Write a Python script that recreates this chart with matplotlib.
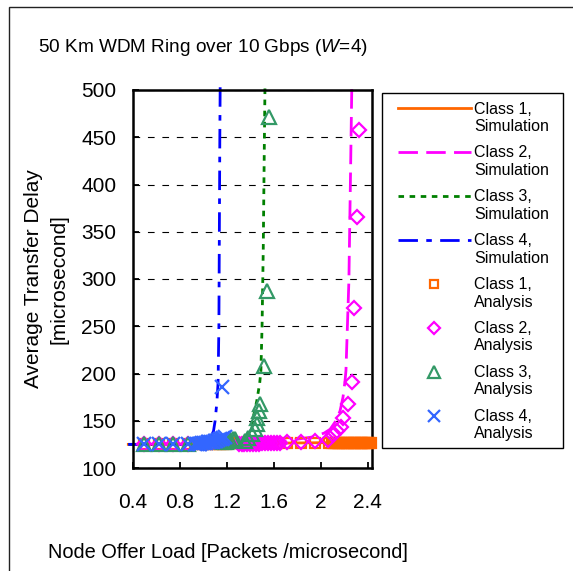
import matplotlib
matplotlib.use('Agg')
import matplotlib.pyplot as plt
from matplotlib.lines import Line2D
from matplotlib.legend_handler import HandlerLine2D
from matplotlib.patches import Rectangle
import numpy as np

plt.rcParams['font.family'] = ['Liberation Sans', 'DejaVu Sans']
plt.rcParams['mathtext.fontset'] = 'custom'
plt.rcParams['mathtext.rm'] = 'Liberation Sans'
plt.rcParams['mathtext.it'] = 'Liberation Sans:italic'

# ---------------- data ----------------
title = '50 Km WDM Ring over 10 Gbps ($\\mathit{W}$=4)'
x_label = 'Node Offer Load [Packets /microsecond]'
y_label = 'Average Transfer Delay\n[microsecond]'
x_ticks = [0.4, 0.8, 1.2, 1.6, 2.0, 2.4]
x_tick_labels = ['0.4', '0.8', '1.2', '1.6', '2', '2.4']
y_ticks = [100, 150, 200, 250, 300, 350, 400, 450, 500]

# Simulation curves
sim1_load = [0.36, 0.6, 1.0, 1.4, 1.8, 2.2, 2.437]
sim1_delay = [125, 125, 125.5, 126, 126.5, 127, 127.5]

sim2_load = [0.36, 1.0, 1.6, 1.8, 1.94, 2.03, 2.08, 2.13, 2.165, 2.19, 2.207, 2.215, 2.24, 2.255, 2.265]
sim2_delay = [125, 125.5, 127, 130.5, 133, 137, 141, 150, 160.5, 175, 192, 203, 298, 420, 505]

sim3_load = [0.36, 0.8, 1.2, 1.3, 1.355, 1.38, 1.41, 1.455, 1.48, 1.49, 1.5, 1.51, 1.52, 1.525]
sim3_delay = [125, 125, 125.5, 126, 128, 135, 145, 171, 190, 203, 250, 330, 450, 505]

sim4_load = [0.36, 0.9, 1.0, 1.05, 1.086, 1.1, 1.115, 1.125, 1.132, 1.136, 1.14, 1.143]
sim4_delay = [125, 125, 126, 129, 139, 150, 170, 190, 250, 350, 450, 505]

# Analysis points
ana1_load = [0.49, 0.62, 0.745, 0.87,
             0.93, 0.96, 0.99, 1.02, 1.05, 1.08, 1.11, 1.14, 1.17, 1.2, 1.23, 1.26,
             1.29, 1.32, 1.35, 1.38, 1.41, 1.44, 1.47, 1.5, 1.53, 1.56, 1.59, 1.62,
             1.71, 1.83, 1.95, 2.07,
             2.1, 2.115, 2.13, 2.145, 2.16, 2.175, 2.19, 2.205, 2.22, 2.235, 2.25,
             2.265, 2.28, 2.295, 2.31, 2.325, 2.34, 2.355, 2.37, 2.385, 2.4, 2.415, 2.43]
ana1_delay = [125, 125, 125, 125,
              125, 125, 125, 125, 125, 125.5, 125.5, 125.5, 125.5, 125.5, 126, 126,
              126, 126, 126, 126, 126, 126, 126, 126, 126, 126.5, 126.5, 126.5,
              126.5, 126.5, 126.5, 126.5,
              126.5, 126.5, 126.5, 126.5, 126.5, 126.5, 126.5, 126.5, 126.5, 126.5, 126.5,
              126.5, 126.5, 126.5, 126.5, 126.5, 126.5, 126.5, 126.5, 126.5, 126.5, 126.5, 126.5]

ana2_load = [0.49, 0.62, 0.745, 0.87,
             1.3, 1.325, 1.35, 1.375, 1.4, 1.425, 1.45, 1.475, 1.5, 1.525, 1.55, 1.575, 1.6, 1.625, 1.65,
             1.71, 1.83, 1.95,
             2.065, 2.107, 2.141, 2.173, 2.192, 2.23, 2.264, 2.286, 2.306, 2.329]
ana2_delay = [125, 125, 125, 125,
              125.5, 125.5, 125.5, 125.5, 125.5, 125.5, 125.5, 125.5, 126, 126, 126, 126, 126, 126, 126,
              128, 128, 128.5,
              130, 135, 139, 143.5, 152.7, 168, 190.5, 269, 365.6, 457.6]

ana3_load = [0.49, 0.62, 0.745, 0.87,
             1.17, 1.19, 1.21, 1.23, 1.25, 1.27,
             1.355, 1.38, 1.41, 1.44, 1.455, 1.46, 1.47, 1.485, 1.52, 1.54, 1.56]
ana3_delay = [125, 125, 125, 125,
              127, 128, 128.5, 129.5, 130.5, 131,
              128.6, 132, 136, 141, 146.7, 153, 160, 167.6, 208, 287, 471]

ana4_load = [0.49, 0.62, 0.745, 0.87,
             0.93, 0.945, 0.96, 0.975, 0.99, 1.005, 1.02, 1.035, 1.05, 1.065, 1.08,
             1.095, 1.11, 1.125, 1.14, 1.155, 1.17, 1.185, 1.157]
ana4_delay = [125, 125, 125, 125,
              125, 125, 125.5, 125.5, 126, 126, 126.5, 127, 127, 127.5, 128,
              128.5, 129, 130, 130.5, 131, 132, 133, 186]

labels = ['Class 1,\nSimulation', 'Class 2,\nSimulation', 'Class 3,\nSimulation', 'Class 4,\nSimulation',
          'Class 1,\nAnalysis', 'Class 2,\nAnalysis', 'Class 3,\nAnalysis', 'Class 4,\nAnalysis']

# ---------------- styles ----------------
c_orange = '#FF6600'
c_magenta = '#FF00FF'
c_green_line = '#008000'
c_green_mk = '#339966'
c_blue_line = '#0000FF'
c_blue_mk = '#3366FF'

W, H = 573, 571
fig = plt.figure(figsize=(W / 100, H / 100), dpi=100)
fig.patch.set_facecolor('white')
ax = fig.add_axes([133 / W, 1 - 468 / H, (372 - 133) / W, (468 - 90) / H])

lw = 2.0
line_styles = [
    dict(color=c_orange, ls='-'),
    dict(color=c_magenta, dashes=(7, 3)),
    dict(color=c_green_line, dashes=(2, 2)),
    dict(color=c_blue_line, dashes=(7, 3, 2, 3)),
]
sims = [(sim1_load, sim1_delay), (sim2_load, sim2_delay), (sim3_load, sim3_delay), (sim4_load, sim4_delay)]
handles = []
for (xs, ys), st in zip(sims, line_styles):
    ax.plot(xs, ys, lw=lw, zorder=2, clip_on=False, **st)
    handles.append(Line2D([], [], lw=lw, **st))

mk_styles = [
    dict(marker='s', ms=7, mec=c_orange, mfc='none', mew=1.6),
    dict(marker='D', ms=6.8, mec=c_magenta, mfc='none', mew=1.6),
    dict(marker='^', ms=9.5, mec=c_green_mk, mfc='none', mew=1.6),
    dict(marker='x', ms=9.5, mec=c_blue_mk, mfc='none', mew=1.6),
]
anas = [(ana1_load, ana1_delay), (ana2_load, ana2_delay), (ana3_load, ana3_delay), (ana4_load, ana4_delay)]
for (xs, ys), st in zip(anas, mk_styles):
    ax.plot(xs, ys, ls='none', zorder=3, clip_on=False, **st)
    handles.append(Line2D([], [], ls='none', **st))

ax.set_xlim(0.4, 2.437)
ax.set_ylim(100, 500)
ax.set_xticks(x_ticks)
ax.set_xticklabels(x_tick_labels)
ax.set_yticks(y_ticks)
ax.tick_params(direction='in', length=4, width=1.3, labelsize=15, colors='black')
ax.tick_params(axis='x', pad=18)
ax.tick_params(axis='y', pad=12)
ax.yaxis.grid(True, color='black', lw=0.8, linestyle=(0, (6, 7)))
ax.set_axisbelow(True)
for sp in ax.spines.values():
    sp.set_linewidth(1.8)
    sp.set_color('black')

fig.text(203 / W, 1 - 47 / H, title, fontsize=13.7, ha='center', va='center')
fig.text(228 / W, 1 - 553 / H, x_label, fontsize=14.4, ha='center', va='center')
fig.text(46 / W, 1 - 279 / H, y_label, fontsize=15, ha='center', va='center',
         rotation=90, multialignment='center', linespacing=1.45)

# outer border
fig.add_artist(Rectangle((9 / W, -0.1), 1.2, 1.1 - 7 / H, transform=fig.transFigure,
                         fill=False, edgecolor='#222222', lw=1.0))

# legend frame
fig.add_artist(Rectangle((382 / W, 1 - 448 / H), (563 - 382) / W, (448 - 93) / H,
                         transform=fig.transFigure, fill=False, edgecolor='black', lw=1.0))


class UpHandler(HandlerLine2D):
    def __init__(self, shift, **kw):
        super().__init__(**kw)
        self.shift = shift

    def create_artists(self, legend, orig_handle, xdescent, ydescent, width, height, fontsize, trans):
        arts = super().create_artists(legend, orig_handle, xdescent, ydescent, width, height, fontsize, trans)
        for a in arts:
            a.set_ydata(np.asarray(a.get_ydata()) + self.shift)
        return arts


leg = fig.legend(handles, labels, loc='upper left', bbox_to_anchor=(388 / W, 1 - 92 / H),
                 fontsize=11.5, frameon=False,
                 handlelength=4.6, handletextpad=0.2, labelspacing=0.72, borderpad=0.6,
                 borderaxespad=0, markerscale=0.85,
                 handler_map={Line2D: UpHandler(7)})

fig.savefig('out.png', dpi=100)
